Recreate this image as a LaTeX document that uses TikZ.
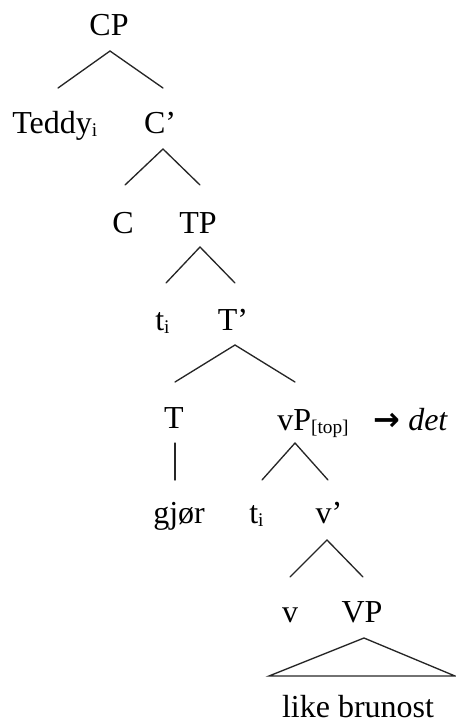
\documentclass[tikz,border=0pt]{standalone}
\usepackage{fontspec}
\setmainfont{Liberation Serif}
\newfontfamily\arrfont{DejaVu Sans}
\newcommand{\lsub}[1]{\raisebox{-2.5pt}{\fontsize{14.5}{14.5}\selectfont #1}}
\begin{document}
\begin{tikzpicture}[x=0.75pt,y=-0.75pt,
  lbl/.style={inner sep=0pt, font=\fontsize{24}{28}\selectfont, anchor=base},
  br/.style={line width=1pt, draw=black!85, line cap=round}]
\useasboundingbox (0,0) rectangle (456,726);
% labels
\node[lbl] (CP) at (109,35) {CP};
\node[lbl, anchor=base west] (Teddy) at (12,133) {Teddy\lsub{i}};
\node[lbl] (C1) at (160,133) {C’};
\node[lbl] (C) at (123,233) {C};
\node[lbl] (TP) at (198,233) {TP};
\node[lbl, anchor=base west] (t1) at (155,330) {t\lsub{i}};
\node[lbl] (T1) at (233,330) {T’};
\node[lbl] (T) at (174,428) {T};
\node[lbl, anchor=base west] (vP) at (277,430) {vP\lsub{[top]}};
\node[lbl, anchor=base west] (arr) at (373,430) {\arrfont\bfseries →};
\node[lbl, anchor=base west] (det) at (408,430) {\textit{det}};
\node[lbl, anchor=base west] (gjor) at (153,523) {gjør};
\node[lbl, anchor=base west] (t2) at (249,523) {t\lsub{i}};
\node[lbl] (v1) at (329,523) {v’};
\node[lbl] (v) at (290,622) {v};
\node[lbl] (VP) at (362,622) {VP};
\node[lbl] (lb) at (358,717) {like brunost};
% branch points
\coordinate (CPb) at (110,51);
\coordinate (Teddyt) at (58,88);
\coordinate (C1t) at (163,88);
\coordinate (C1b) at (163,149);
\coordinate (Ct) at (125,185);
\coordinate (TPt) at (200,185);
\coordinate (TPb) at (200,247);
\coordinate (t1t) at (166,283);
\coordinate (T1t) at (235,283);
\coordinate (T1b) at (235,345);
\coordinate (Tt) at (175,382);
\coordinate (vPt) at (295,382);
\coordinate (Tb) at (175,443);
\coordinate (gjort) at (175,480);
\coordinate (vPb) at (295,443);
\coordinate (t2t) at (262,480);
\coordinate (v1t) at (328,480);
\coordinate (v1b) at (327,540);
\coordinate (vt) at (290,577);
\coordinate (VPt) at (363,577);
\coordinate (VPb) at (364,638);
\coordinate (lbl1) at (269,676);
\coordinate (lbr) at (455,676);
% branches
\draw[br] (Teddyt) -- (CPb) -- (C1t);
\draw[br] (Ct) -- (C1b) -- (TPt);
\draw[br] (t1t) -- (TPb) -- (T1t);
\draw[br] (Tt) -- (T1b) -- (vPt);
\draw[br] (Tb) -- (gjort);
\draw[br] (t2t) -- (vPb) -- (v1t);
\draw[br] (vt) -- (v1b) -- (VPt);
\draw[br, line join=miter] (lbl1) -- (VPb) -- (lbr) -- cycle;
\end{tikzpicture}
\end{document}
